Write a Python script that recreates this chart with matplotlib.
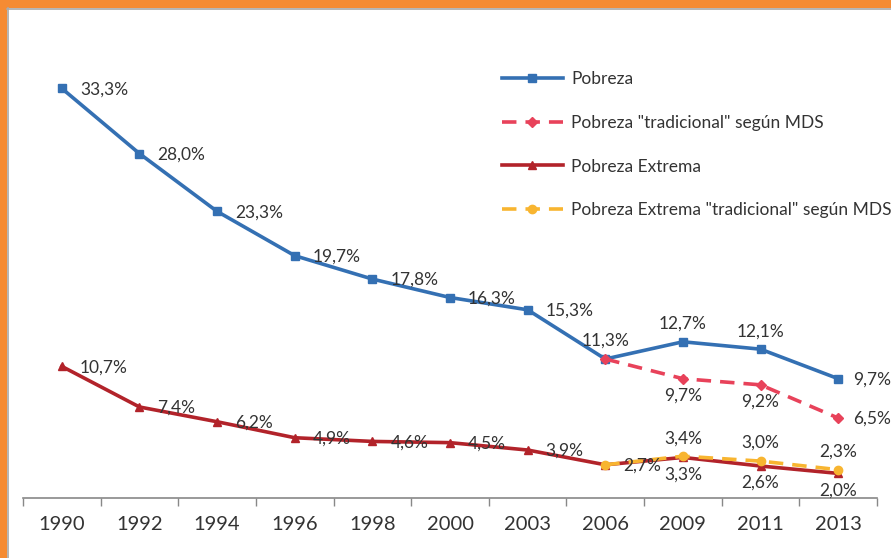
import matplotlib
matplotlib.use('Agg')
from matplotlib import pyplot as plt
from matplotlib.patches import Rectangle
from matplotlib.lines import Line2D

years = ['1990', '1992', '1994', '1996', '1998', '2000', '2003', '2006', '2009', '2011', '2013']
pobreza = [33.3, 28.0, 23.3, 19.7, 17.8, 16.3, 15.3, 11.3, 12.7, 12.1, 9.7]
pobreza_trad = [11.3, 9.7, 9.2, 6.5]          # 2006 - 2013
extrema = [10.7, 7.4, 6.2, 4.9, 4.6, 4.5, 3.9, 2.7, 3.3, 2.6, 2.0]
extrema_trad = [2.7, 3.4, 3.0, 2.3]           # 2006 - 2013
trad_start = 7

# where each value label goes: r = right, a = above, b = below, n = none
pobreza_pos = ['r', 'r', 'r', 'r', 'r', 'r', 'r', 'a', 'a', 'a', 'r']
pobreza_trad_pos = ['n', 'b', 'b', 'r']
extrema_pos = ['r', 'r', 'r', 'r', 'r', 'r', 'r', 'r', 'b', 'b', 'b']
extrema_trad_pos = ['n', 'a', 'a', 'a']

BLUE = '#3470B3'
PINK = '#E8425A'
RED = '#B2232A'
GOLD = '#F8B530'
TXT = '#333333'

plt.rcParams['font.family'] = ['Lato', 'DejaVu Sans']

fig = plt.figure(figsize=(8.91, 5.58), dpi=100)
ax = fig.add_axes([23 / 891, 60 / 558, 854 / 891, 492 / 558])

x = list(range(len(years)))
xt = x[trad_start:]
LW = 2.6

ax.plot(x, pobreza, color=BLUE, lw=LW, marker='s', ms=6, label='Pobreza', zorder=3)
ax.plot(xt, pobreza_trad, color=PINK, lw=LW, ls=(0, (4, 2.5)), marker='D', ms=5,
        label='Pobreza "tradicional" según MDS', zorder=4)
ax.plot(x, extrema, color=RED, lw=LW, marker='^', ms=6, label='Pobreza Extrema', zorder=3)
ax.plot(xt, extrema_trad, color=GOLD, lw=LW, ls=(0, (4, 2.5)), marker='o', ms=6,
        label='Pobreza Extrema "tradicional" según MDS', zorder=4)


def put_labels(xs, vals, pos):
    for xi, v, p in zip(xs, vals, pos):
        if p == 'n':
            continue
        txt = ('%.1f%%' % v).replace('.', ',')
        if p == 'r':
            # last column sits at the right edge, pull it in a little
            off, ha = ((15, -1) if xi == len(years) - 1 else (18, -1)), 'left'
        elif p == 'a':
            off, ha = (0, 18), 'center'
        else:
            off, ha = (0, -17), 'center'
        ax.annotate(txt, (xi, v), xytext=off, textcoords='offset pixels',
                    ha=ha, va='center', fontsize=12.5, color=TXT, zorder=5)


put_labels(x, pobreza, pobreza_pos)
put_labels(xt, pobreza_trad, pobreza_trad_pos)
put_labels(x, extrema, extrema_pos)
put_labels(xt, extrema_trad, extrema_trad_pos)

ax.set_xlim(-0.5, len(years) - 0.5)
ax.set_ylim(0, 40)
ax.set_xticks(x)
ax.set_xticklabels(years, fontsize=14.5, color=TXT)
ax.set_xticks([i - 0.5 for i in range(len(years) + 1)], minor=True)
ax.tick_params(axis='x', which='major', length=0, pad=13)
ax.tick_params(axis='x', which='minor', length=6, color='#888888', width=1)
ax.set_yticks([])
for s in ['top', 'right', 'left']:
    ax.spines[s].set_visible(False)
ax.spines['bottom'].set_color('#888888')
ax.spines['bottom'].set_linewidth(1.2)

handles = [
    Line2D([], [], color=BLUE, lw=LW, marker='s', ms=6),
    Line2D([], [], color=PINK, lw=LW, ls=(0, (4, 2.5)), marker='D', ms=5),
    Line2D([], [], color=RED, lw=LW, marker='^', ms=6),
    Line2D([], [], color=GOLD, lw=LW, ls=(0, (4, 2.5)), marker='o', ms=6),
]
labels = ['Pobreza', 'Pobreza "tradicional" según MDS', 'Pobreza Extrema',
          'Pobreza Extrema "tradicional" según MDS']
fig.legend(handles, labels, loc='upper left', bbox_to_anchor=(495 / 891, 1 - 64 / 558),
           frameon=False, fontsize=12.5, handlelength=3.5, handletextpad=0.5,
           labelspacing=1.6, labelcolor=TXT, borderaxespad=0)

# orange frame on the left and top edge
fig.add_artist(Rectangle((0, 0), 7 / 891, 1, transform=fig.transFigure,
                         facecolor='#F58B33', edgecolor='none'))
fig.add_artist(Rectangle((0, 1 - 8 / 558), 1, 8 / 558, transform=fig.transFigure,
                         facecolor='#F58B33', edgecolor='none'))
fig.add_artist(Line2D([7.5 / 891, 7.5 / 891], [0, 1 - 8 / 558], color='#A8A8A8', lw=1.2,
                      transform=fig.transFigure))
fig.add_artist(Line2D([7 / 891, 1], [1 - 8.5 / 558, 1 - 8.5 / 558], color='#A8A8A8', lw=1.2,
                      transform=fig.transFigure))

fig.savefig('out.png', dpi=100)
